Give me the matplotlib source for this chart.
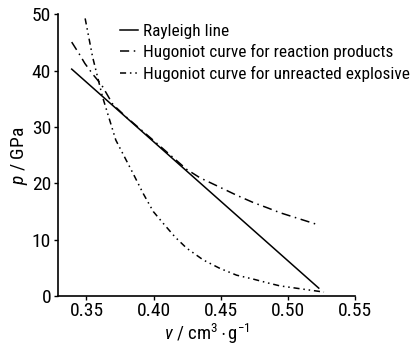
"""Rayleigh line and Hugoniot curves in the p-v plane"""

import matplotlib.pyplot as plt
import matplotlib as mpl

mpl.rcParams['font.family'] = 'sans-serif'
mpl.rcParams['font.sans-serif'] = ['Liberation Sans Narrow', 'Roboto Condensed',
                                   'Liberation Sans']
mpl.rcParams['mathtext.fontset'] = 'custom'
mpl.rcParams['mathtext.it'] = 'sans:italic'
mpl.rcParams['mathtext.rm'] = 'sans'

# Rayleigh line (straight, end points)
v_ray = [0.339, 0.5228]
p_ray = [40.3, 1.4]

# Hugoniot curve for reaction products
v_prod = [0.339, 0.3451, 0.3488, 0.355, 0.3612, 0.3697, 0.38, 0.40, 0.4245,
          0.4344, 0.4468, 0.4617, 0.4741, 0.4853, 0.4939, 0.523]
p_prod = [45.1, 42.8, 41.3, 39.3, 37.5, 34.0, 31.7, 27.6, 22.5,
          21.0, 19.6, 17.9, 16.6, 15.6, 14.8, 12.6]

# Hugoniot curve for unreacted explosive
v_unr = [0.349, 0.3545, 0.3619, 0.3718, 0.3848, 0.3922, 0.3997, 0.4071,
         0.4158, 0.4245, 0.4369, 0.4493, 0.4617, 0.4741, 0.4853, 0.4939,
         0.5087, 0.5267]
p_unr = [49.3, 42.5, 35.4, 27.7, 21.7, 18.2, 15.0, 12.9,
         10.5, 8.5, 6.4, 4.9, 3.7, 3.0, 2.3, 1.8,
         1.3, 0.7]

x_ticks = [0.35, 0.40, 0.45, 0.50, 0.55]
y_ticks = [0, 10, 20, 30, 40, 50]

fig = plt.figure(figsize=(4.11, 3.45), dpi=100)
ax = fig.add_axes([0.1411, 0.142, 0.7234, 0.816])

ax.plot(v_ray, p_ray, color='k', lw=1.1, ls='-', label='Rayleigh line')
ax.plot(v_prod, p_prod, color='k', lw=1.1, ls=(0, (6, 3, 1, 3)),
        label='Hugoniot curve for reaction products')
ax.plot(v_unr, p_unr, color='k', lw=1.1, ls=(0, (4, 2.5, 1, 2.5, 1, 2.5)),
        label='Hugoniot curve for unreacted explosive')

ax.set_xlim(0.3288, 0.55)
ax.set_ylim(0, 50)
ax.set_xticks(x_ticks)
ax.set_xticklabels([f'{t:.2f}' for t in x_ticks])
ax.set_yticks(y_ticks)
ax.tick_params(direction='out', length=3, width=1, labelsize=14, pad=2)
ax.tick_params(axis='x', pad=1)

for side in ['top', 'right']:
    ax.spines[side].set_visible(False)
for side in ['left', 'bottom']:
    ax.spines[side].set_linewidth(1.2)

ax.set_xlabel(r'$v$ / cm$^3\cdot$g$^{-1}$', fontsize=13.5, labelpad=1.5)
ax.set_ylabel(r'$p$ / GPa', fontsize=14, labelpad=1)

ax.legend(loc='upper left', bbox_to_anchor=(0.168, 1.01), frameon=False,
          fontsize=12.4, handlelength=1.05, handletextpad=0.29,
          labelspacing=0.33, borderaxespad=0.3)

fig.savefig('out.png', dpi=100)
